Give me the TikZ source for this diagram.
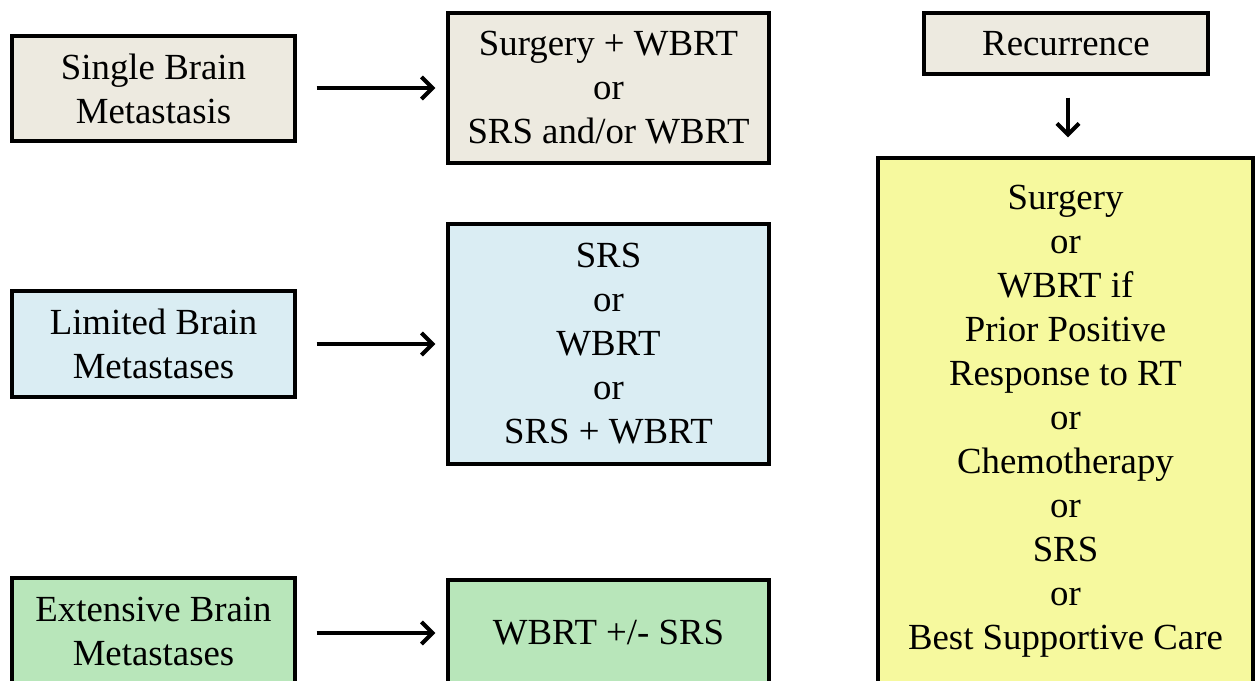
\documentclass[tikz,border=0pt]{standalone}
\usepackage{fontspec}
\setmainfont{Liberation Serif}
\usepackage{xcolor}
\usepackage{tikz}
\usetikzlibrary{arrows.meta,positioning}
\definecolor{beigefill}{HTML}{EDEAE0}
\definecolor{bluefill}{HTML}{DAEDF3}
\definecolor{greenfill}{HTML}{B8E6BA}
\definecolor{yellowfill}{HTML}{F6F99E}
\tikzset{
  box/.style={draw=black,line width=1.7pt,align=center,inner sep=0pt,
              font=\fontsize{18.4}{22}\selectfont},
  single/.style={box,fill=beigefill},
  limited/.style={box,fill=bluefill},
  extensive/.style={box,fill=greenfill},
  salvage/.style={box,fill=yellowfill},
  arrow/.style={-{Straight Barb[length=5.5pt,width=11pt,line width=2pt]},line width=2pt}
}
\begin{document}
\begin{tikzpicture}[x=0.5pt,y=-0.5pt]
  \clip (0,0) rectangle (1255,681);
  \fill[white] (0,0) rectangle (1255,681);

  % diagnosis boxes
  \node[single,minimum width=141.5pt,minimum height=52.5pt] (single) at (153.5,88.5)
    {Single Brain\\Metastasis};
  \node[limited,minimum width=141.5pt,minimum height=53pt] (limited) at (153.5,344)
    {Limited Brain\\Metastases};
  \node[extensive,minimum width=141.5pt,minimum height=53pt] (extensive) at (153.5,631)
    {Extensive Brain\\Metastases};

  % treatment boxes
  \node[single,minimum width=160.5pt,minimum height=75pt] (surgwbrt) at (608.5,88)
    {Surgery + WBRT\\or\\SRS and/or WBRT};
  \node[limited,minimum width=160.5pt,minimum height=120pt] (srsopts) at (608.5,344)
    {SRS\\or\\WBRT\\or\\SRS + WBRT};
  \node[extensive,minimum width=160.5pt,minimum height=53pt] (wbrtsrs) at (608.5,633)
    {WBRT +/- SRS};

  \draw[arrow,shorten <=10pt,shorten >=5.5pt] (single.east|-surgwbrt.west) -- (surgwbrt.west);
  \draw[arrow,shorten <=10pt,shorten >=5.5pt] (limited.east) -- (limited.east-|srsopts.west);
  \draw[arrow,shorten <=10pt,shorten >=5.5pt] (extensive.east|-wbrtsrs.west) -- (wbrtsrs.west);

  % recurrence column
  \node[single,minimum width=142pt,minimum height=30.5pt] (recur) at (1066,43.5) {Recurrence};
  \node[salvage,minimum width=187.5pt,minimum height=263pt] (options) at (1065.5,421)
    {Surgery\\or\\WBRT if\\Prior Positive\\Response to RT\\or\\Chemotherapy\\or\\SRS\\or\\Best Supportive Care};
  \draw[arrow,shorten <=11pt,shorten >=9.5pt] (recur.south-|1068,0) -- (options.north-|1068,0);
\end{tikzpicture}
\end{document}
